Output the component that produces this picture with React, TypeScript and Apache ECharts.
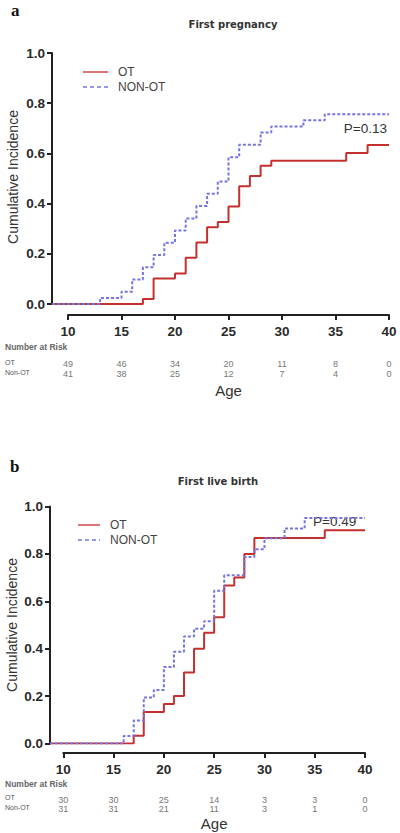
import React, { useEffect, useRef } from "react";
import * as echarts from "echarts";

// ---------- data ----------
const ageTicks = [10, 15, 20, 25, 30, 35, 40];
const yTicks = [0, 0.2, 0.4, 0.6, 0.8, 1.0];
const seriesNames = ["OT", "NON-OT"];
const riskRowNames = ["OT", "Non-OT"];
const yName = "Cumulative Incidence";

// Panel a: First pregnancy
const aOTAges = [17, 18, 20, 21, 22, 23, 24, 25, 26, 27, 28, 29, 36, 38];
const aOTVals = [0.02, 0.102, 0.122, 0.184, 0.245, 0.306, 0.327, 0.388, 0.469, 0.51, 0.551, 0.571, 0.602, 0.633];
const aNonAges = [13, 15, 16, 17, 18, 19, 20, 21, 22, 23, 24, 25, 26, 28, 29, 32, 34];
const aNonVals = [0.024, 0.049, 0.098, 0.146, 0.195, 0.244, 0.293, 0.341, 0.39, 0.439, 0.488, 0.585, 0.634, 0.683, 0.707, 0.732, 0.756];
const aRiskOT = [49, 46, 34, 20, 11, 8, 0];
const aRiskNon = [41, 38, 25, 12, 7, 4, 0];
const aP = "P=0.13";

// Panel b: First live birth
const bOTAges = [17, 18, 20, 21, 22, 23, 24, 25, 26, 27, 28, 29, 36];
const bOTVals = [0.033, 0.133, 0.167, 0.2, 0.3, 0.4, 0.467, 0.533, 0.667, 0.7, 0.8, 0.867, 0.9];
const bNonAges = [16, 17, 18, 19, 20, 21, 22, 23, 24, 25, 26, 28, 29, 30, 32, 34];
const bNonVals = [0.032, 0.097, 0.194, 0.226, 0.323, 0.387, 0.452, 0.484, 0.516, 0.645, 0.71, 0.787, 0.82, 0.866, 0.907, 0.952];
const bRiskOT = [30, 30, 25, 14, 3, 3, 0];
const bRiskNon = [31, 31, 21, 11, 3, 1, 0];
const bP = "P=0.49";

const END_AGE = 40;
const FIRST_TICK = 10;

// ---------- styles ----------
const RED = "#c4302f";
const BLUE = "#7474e4";
const AXIS = "#222";
const FONT = "Liberation Sans, Arial, sans-serif";
const DASH = [3, 2];

function stepData(startAge: number, ages: number[], vals: number[]) {
  const pts: number[][] = [[startAge, 0]];
  ages.forEach((a, i) => pts.push([a, vals[i]]));
  pts.push([END_AGE, vals[vals.length - 1]]);
  return pts;
}

export default function App() {
  const ref = useRef<HTMLDivElement>(null);

  useEffect(() => {
    if (!ref.current) return;
    const chart = echarts.init(ref.current, null, { renderer: "svg" });

    // plot area (y axis at its left edge) and a separate, offset age axis
    const panels = [
      {
        plotLeft: 52, axisLeft: 68, right: 389, top: 53, bottom: 304, axisY: 315,
        riskOT: aRiskOT, riskNon: aRiskNon, riskOff: [44, 54.5], ageGap: 68,
        ot: [aOTAges, aOTVals], non: [aNonAges, aNonVals],
      },
      {
        plotLeft: 50, axisLeft: 63.3, right: 365, top: 506.5, bottom: 743.5, axisY: 753,
        riskOT: bRiskOT, riskNon: bRiskNon, riskOff: [42, 51.8], ageGap: 62.5,
        ot: [bOTAges, bOTVals], non: [bNonAges, bNonVals],
      },
    ];

    const grid: any[] = [];
    const xAxis: any[] = [];
    const yAxis: any[] = [];
    const series: any[] = [];

    panels.forEach((p) => {
      // same px-per-year in both grids
      const pxPerYear = (p.right - p.axisLeft) / (END_AGE - FIRST_TICK);
      const startAge = FIRST_TICK - (p.axisLeft - p.plotLeft) / pxPerYear;

      const gPlot = grid.length;
      grid.push({
        left: p.plotLeft, top: p.top, width: p.right - p.plotLeft, height: p.bottom - p.top,
        containLabel: false, outerBoundsMode: "none",
      });
      const gAxis = grid.length;
      grid.push({
        left: p.axisLeft, top: p.axisY - 1, width: p.right - p.axisLeft, height: 1,
        containLabel: false, outerBoundsMode: "none",
      });

      const xPlot = xAxis.length;
      xAxis.push({ type: "value", gridIndex: gPlot, min: startAge, max: END_AGE, show: false });
      xAxis.push({
        type: "value", gridIndex: gAxis, min: FIRST_TICK, max: END_AGE, interval: 5, position: "bottom",
        axisLine: { show: true, lineStyle: { color: AXIS, width: 2 } },
        axisTick: { show: true, length: 5, lineStyle: { color: AXIS, width: 2 } },
        splitLine: { show: false },
        axisLabel: { fontSize: 13.5, fontWeight: "bold", color: "#2a2a2a", margin: 9, fontFamily: FONT },
        name: "Age", nameLocation: "middle", nameGap: p.ageGap,
        nameTextStyle: { fontSize: 15, color: "#333", fontFamily: FONT },
      });
      [p.riskOT, p.riskNon].forEach((risk, r) => {
        xAxis.push({
          type: "value", gridIndex: gAxis, min: FIRST_TICK, max: END_AGE, interval: 5, position: "bottom",
          offset: p.riskOff[r],
          axisLine: { show: false }, axisTick: { show: false }, splitLine: { show: false },
          axisLabel: {
            fontSize: 9, color: "#777", margin: 0, fontFamily: FONT,
            formatter: (v: number) => {
              const idx = ageTicks.indexOf(Math.round(v));
              return idx >= 0 ? String(risk[idx]) : "";
            },
          },
        });
      });

      const yPlot = yAxis.length;
      yAxis.push({
        type: "value", gridIndex: gPlot, min: 0, max: 1, interval: 0.2,
        axisLine: { show: true, lineStyle: { color: AXIS, width: 2 } },
        axisTick: { show: true, length: 5, lineStyle: { color: AXIS, width: 2 } },
        splitLine: { show: false },
        axisLabel: {
          fontSize: 13.5, fontWeight: "bold", color: "#2a2a2a", margin: 7, fontFamily: FONT,
          formatter: (v: number) => (yTicks.some((t) => Math.abs(t - v) < 1e-6) ? v.toFixed(1) : ""),
        },
      });
      yAxis.push({ type: "value", gridIndex: gAxis, show: false });

      series.push(
        {
          name: seriesNames[0], type: "line", step: "end", xAxisIndex: xPlot, yAxisIndex: yPlot,
          showSymbol: false, symbol: "none",
          data: stepData(startAge, p.ot[0], p.ot[1]),
          lineStyle: { color: RED, width: 2 }, itemStyle: { color: RED },
        },
        {
          name: seriesNames[1], type: "line", step: "end", xAxisIndex: xPlot, yAxisIndex: yPlot,
          showSymbol: false, symbol: "none",
          data: stepData(startAge, p.non[0], p.non[1]),
          lineStyle: { color: BLUE, width: 2, type: DASH }, itemStyle: { color: BLUE },
        }
      );
    });

    const txt = (x: number, y: number, text: string, style: any = {}, extra: any = {}) => ({
      type: "text", x, y, ...extra,
      style: { text, fontFamily: FONT, fill: "#444", verticalAlign: "middle", ...style },
    });
    const legendLines = (x1: number, x2: number, y1: number, y2: number, tx: number) => [
      { type: "line", shape: { x1, y1, x2, y2: y1 }, style: { stroke: "#d0484a", lineWidth: 1.5 } },
      { type: "line", shape: { x1, y1: y2, x2, y2 }, style: { stroke: BLUE, lineWidth: 1.5, lineDash: [4, 3] } },
      txt(tx, y1, seriesNames[0], { fontSize: 12, fill: "#444" }),
      txt(tx, y2, seriesNames[1], { fontSize: 12, fill: "#444" }),
    ];
    const riskLabels = (y0: number, y1: number, y2: number) => [
      txt(5, y0, "Number at Risk", { fontSize: 8.5, fontWeight: "bold", fill: "#666" }),
      txt(5, y1, riskRowNames[0], { fontSize: 7, fill: "#555" }),
      txt(5, y2, riskRowNames[1], { fontSize: 7, fill: "#555" }),
    ];
    const yTitle = (x: number, y: number) =>
      txt(x, y, yName, { fontSize: 14, fill: "#333", align: "center" }, { rotation: Math.PI / 2 });

    chart.setOption({
      animation: false,
      backgroundColor: "#fff",
      grid, xAxis, yAxis, series,
      title: [
        { text: "First pregnancy", left: 228, top: 14, textAlign: "center",
          textStyle: { fontSize: 10, fontWeight: "bold", color: "#333", fontFamily: "DejaVu Sans, sans-serif" } },
        { text: "First live birth", left: 213, top: 471, textAlign: "center",
          textStyle: { fontSize: 10, fontWeight: "bold", color: "#333", fontFamily: "DejaVu Sans, sans-serif" } },
      ],
      graphic: [
        txt(11, 10, "a", { fontSize: 17, fontWeight: "bold", fill: "#111", fontFamily: "Liberation Serif, serif" }),
        txt(10, 466, "b", { fontSize: 17, fontWeight: "bold", fill: "#111", fontFamily: "Liberation Serif, serif" }),
        yTitle(12.5, 177),
        yTitle(12, 625),
        txt(387, 128, aP, { fontSize: 13.5, fill: "#333", align: "right" }),
        txt(313, 521.5, bP, { fontSize: 13.5, fill: "#333" }),
        ...legendLines(83, 108, 72, 87, 118),
        ...legendLines(78, 100, 525, 540, 110),
        ...riskLabels(347, 362, 372.5),
        ...riskLabels(784, 797.5, 807),
      ],
    });

    return () => chart.dispose();
  }, []);

  return (
    <div
      ref={ref}
      style={{ position: "absolute", left: 0, top: 0, width: 400, height: 833, background: "#fff" }}
    />
  );
}
